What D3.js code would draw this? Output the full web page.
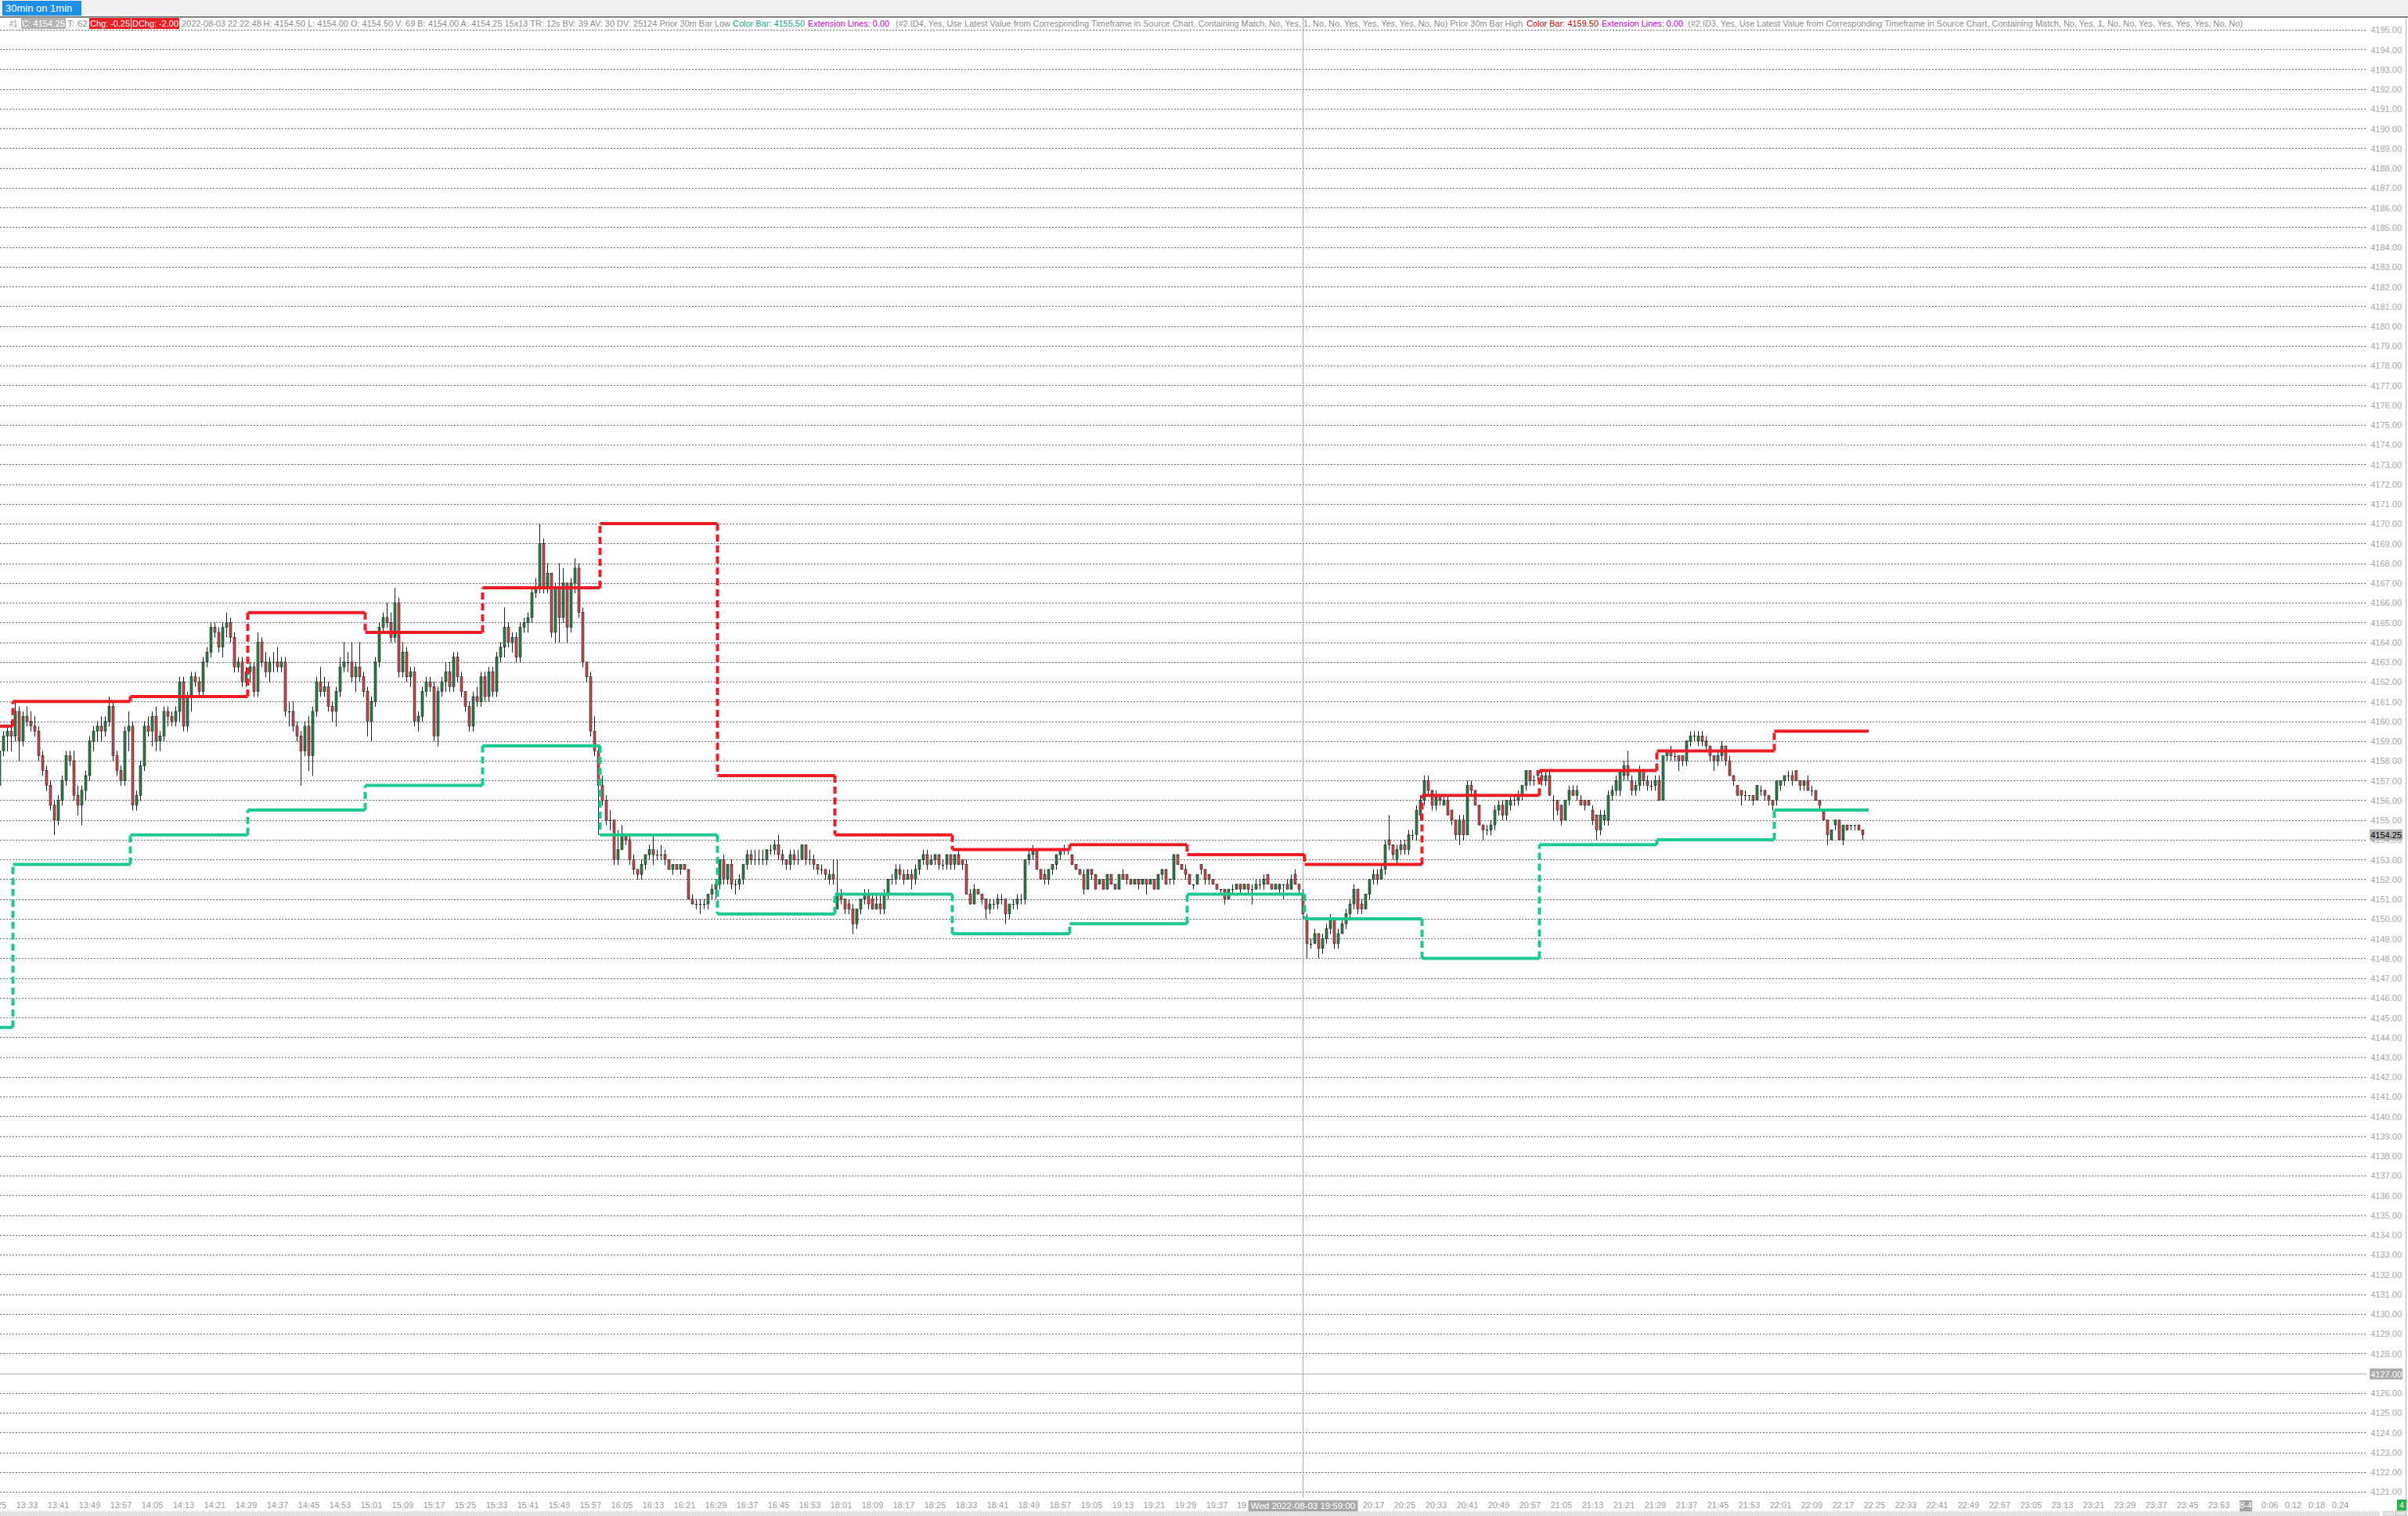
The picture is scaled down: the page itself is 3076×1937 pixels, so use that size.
<!DOCTYPE html>
<html><head><meta charset="utf-8">
<script src="https://cdn.jsdelivr.net/npm/d3@7"></script>
<style>
html,body{margin:0;padding:0;background:#fff;overflow:hidden;}
svg{display:block;}
text{font-family:"Liberation Sans",Arial,sans-serif;}
</style></head><body>
<svg id="c" width="3076" height="1937"></svg>
<script>
// ---------------- DATA ----------------
// 1-minute bars, session 1: 13:26-16:59 (index 0-213), session 2: 18:00-22:22 (index 214-476)
const opens=[
4156.75,4158.5,4159.25,4159.5,4159.25,4160.5,4159,4160.25,4160,4159.75,
4159.5,4158.25,4157.5,4156.75,4155.75,4155,4156,4157,4158.25,4158,
4156.25,4155.75,4156.5,4157.25,4159,4159.5,4159.75,4159.5,4160,4160.75,
4158.25,4157.5,4157,4159.5,4159.75,4155.75,4156.25,4157.75,4159.75,4159.5,
4160.25,4159,4159.25,4160.5,4160.25,4160,4160.5,4162,4159.75,4161.25,
4162.25,4162,4161.5,4163,4163.5,4164.75,4164.5,4163.75,4164.75,4165,
4164.25,4162.75,4163,4162,4162.5,4162.75,4161.5,4164,4163,4162.5,
4163,4163,4162.75,4163,4160.5,4160.5,4159.75,4159.25,4158.5,4159.75,
4158.25,4160.5,4162,4161.5,4161.75,4160.75,4160.5,4161.5,4162.75,4163,
4163,4162.25,4162.75,4162.25,4161.5,4160,4161,4163,4164.75,4165.25,
4165,4164.25,4166,4162.5,4163.5,4162.25,4162.5,4160,4160.25,4161.5,
4162,4161.75,4159.25,4161.5,4162,4162.5,4161.75,4163.25,4162.25,4161.5,
4160.75,4159.75,4161.25,4161,4162.25,4161.25,4162.5,4161.5,4163.25,4163.75,
4164.75,4164,4164.25,4163.25,4164.75,4165,4165.25,4166.5,4166.75,4169,
4166.75,4167.5,4164.5,4166.75,4165.25,4167,4164.75,4167,4167.75,4165.5,
4163,4162.25,4159.5,4158.5,4156.75,4156,4155,4155,4153,4153.5,
4154.25,4154,4153,4152.5,4152.25,4152.75,4153.25,4153.5,4153.25,4153.25,
4153.25,4153,4152.5,4152.75,4152.5,4152.75,4152.5,4151,4150.75,4150.75,
4150.75,4150.75,4151.25,4151.5,4151.75,4153,4152,4152.75,4151.75,4151.75,
4152,4152.75,4153.25,4153,4153,4153,4153,4153.5,4153.5,4153.75,
4153.25,4153,4152.75,4153.25,4153,4153,4153.75,4153,4153,4152.75,
4152.5,4152.5,4152,4152.25,4150.5,4151.25,4151,4150.75,4150.5,4149.75,
4150.5,4151,4151.25,4151,4150.5,4150.75,4150.5,4151.25,4152,4152,
4152.5,4152.25,4152,4152.25,4152,4152.5,4153,4153.25,4152.75,4153,
4153.25,4152.75,4152.75,4153.25,4152.75,4153.25,4153,4152.75,4151.25,4150.75,
4151.5,4151.25,4151,4150.5,4150.75,4150.75,4151,4151,4150.25,4150.75,
4150.75,4151,4151,4153,4153.25,4153.5,4152.5,4152.25,4152,4152.5,
4152.75,4153.25,4153.5,4153.5,4153.25,4152.75,4152.5,4152.25,4151.5,4152.5,
4152.25,4151.75,4152,4151.5,4152.25,4151.75,4151.5,4152.25,4152.25,4152,
4151.75,4152,4151.75,4152,4151.75,4152,4151.5,4152.25,4152.5,4152,
4152,4153.25,4152.75,4152.5,4152.25,4151.75,4151.75,4152.75,4152.5,4152.25,
4152,4151.75,4151.5,4151.5,4151,4151.5,4151.5,4151.75,4151.5,4151.75,
4151.5,4151.5,4151.75,4151.75,4152.25,4151.75,4151.5,4151.5,4151.75,4151.75,
4151.5,4152.25,4151.75,4151.25,4150,4148.75,4148.75,4149.25,4148.5,4149,
4149.5,4150,4148.75,4149.25,4149.75,4150.25,4150.75,4151.5,4150.75,4150.5,
4151.25,4152,4152.25,4152,4152.5,4154,4153.75,4153,4153.5,4153.75,
4153.5,4154.25,4154.25,4155.25,4156,4157,4156.5,4155.75,4156.25,4155.75,
4156,4155.5,4155,4154.25,4155,4154.25,4156.75,4156.5,4155.75,4154.75,
4154.5,4154.5,4154.75,4155.5,4155.75,4155.25,4155.75,4156,4156,4156.25,
4156.75,4157.5,4157,4157.5,4157.25,4157,4157.25,4156,4156,4155.75,
4155,4156,4156.5,4156.25,4156,4156,4156,4155.5,4155.25,4154.5,
4155,4155,4156.25,4156.5,4156.5,4157.25,4157.75,4157,4156.5,4156.75,
4157.5,4157,4156.75,4156.75,4157,4156,4158.25,4158.5,4158.25,4158.25,
4158.25,4158,4159,4159.25,4159,4159.25,4159,4158.75,4158.25,4158,
4158.25,4158.75,4158,4157.25,4156.75,4156.5,4156.25,4156.25,4156.25,4156,
4156.5,4156.5,4156.25,4156,4156,4156.75,4157,4157.25,4157.25,4157.5,
4157,4156.75,4157,4156.5,4156.5,4156,4155.5,4155,4154,4154.75,
4155,4154,4154.75,4154.75,4154.75,4154.75,4154.5];
const highs=[
4158.75,4159.5,4159.75,4160,4161,4160.75,4160.5,4160.75,4160.5,4160.25,
4159.75,4158.5,4157.75,4157,4156,4156.25,4157.25,4158.5,4158.5,4158.5,
4156.75,4156.75,4157.5,4159.25,4159.75,4160,4160.25,4160.25,4161.25,4161,
4158.5,4157.75,4159.75,4160.5,4160,4156.5,4158,4160,4160.25,4160.5,
4160.75,4159.5,4160.75,4160.75,4160.5,4160.75,4162.25,4162.25,4161.5,4162.5,
4162.5,4162.25,4163.25,4163.75,4165,4165,4164.75,4165,4165.5,4165.25,
4164.5,4163.25,4163.25,4162.75,4163,4163,4164.5,4164.25,4163.5,4163.25,
4163.5,4163.75,4163.25,4163.25,4161,4161,4160,4159.5,4160,4160.25,
4160.75,4162.25,4162.75,4162.25,4162,4161,4161.75,4163.25,4164,4163.5,
4164,4163,4164,4162.5,4161.75,4161.25,4163.25,4165,4165.5,4166,
4165.5,4166.75,4166.25,4164,4163.75,4162.75,4162.75,4160.5,4161.75,4162.25,
4162.25,4162,4161.75,4162.25,4163,4163,4163.5,4163.5,4162.5,4161.5,
4161,4161.5,4161.75,4162.5,4162.5,4162.75,4162.75,4163.5,4164,4165.75,
4165,4164.5,4164.5,4165,4165.25,4165.5,4166.75,4167.25,4170,4169.25,
4168,4167.5,4167,4168,4167.75,4167,4167.25,4168.25,4168,4165.75,
4163,4162.5,4160.25,4158.75,4157.25,4156.25,4155.5,4155,4154.5,4154.75,
4154.25,4154.25,4153.25,4152.5,4153,4153.25,4153.75,4154.25,4153.5,4153.75,
4153.5,4153,4152.75,4152.75,4152.75,4152.75,4152.5,4151.25,4151,4151,
4151,4151.25,4151.75,4152,4153,4153.25,4152.75,4153,4152,4152.25,
4152.75,4153.5,4153.5,4153.5,4153.5,4153.5,4153.5,4153.75,4154,4154.25,
4153.5,4153,4153.5,4153.5,4153.5,4153.75,4153.75,4153.5,4153.25,4152.75,
4152.75,4152.5,4152.5,4153,4153,4151.5,4151,4151,4150.75,4150.5,
4151,4151.5,4151.5,4151.25,4151.25,4151.25,4151.5,4152,4152.25,4152.75,
4152.75,4152.5,4152.5,4152.5,4152.75,4153,4153.5,4153.5,4153.25,4153.25,
4153.25,4153,4153.25,4153.25,4153.25,4153.5,4153,4153,4151.5,4151.75,
4151.5,4151.25,4151,4151,4151,4151.25,4151.25,4151,4150.75,4151,
4151.25,4151.25,4153,4153.5,4153.75,4153.5,4152.5,4152.5,4152.5,4152.75,
4153.25,4153.5,4153.75,4153.5,4153.25,4152.75,4152.5,4152.5,4152.5,4152.5,
4152.25,4152,4152,4152.25,4152.25,4151.75,4152.25,4152.5,4152.25,4152,
4152,4152,4152,4152,4152,4152,4152.25,4152.5,4152.5,4152,
4153.25,4153.25,4152.75,4152.75,4152.25,4151.75,4152.25,4152.75,4152.5,4152.25,
4152,4151.75,4151.5,4151.5,4151.5,4151.75,4151.75,4151.75,4151.75,4151.75,
4151.75,4152,4152,4152.25,4152.25,4151.75,4151.75,4151.75,4151.75,4152,
4152.25,4152.5,4151.75,4151.5,4150.25,4149,4149.5,4149.25,4149.25,4149.75,
4150.25,4150,4149.5,4150,4150.5,4151,4151.75,4151.5,4151,4151.25,
4152,4152.5,4152.5,4152.75,4154,4155.25,4153.75,4153.75,4154,4154,
4154.5,4154.5,4155.75,4156.25,4157.25,4157.25,4156.5,4156.5,4156.25,4156.25,
4156.25,4155.5,4155,4155.25,4155.25,4157,4157,4156.5,4155.75,4154.75,
4154.75,4155,4155.75,4156,4156,4156,4156.25,4156.25,4156.5,4156.75,
4157.5,4157.5,4157.25,4157.5,4157.5,4157.5,4157.5,4156.25,4156,4155.75,
4156,4156.75,4156.75,4156.75,4156.25,4156,4156,4155.75,4155.25,4155.5,
4155.5,4156.5,4156.75,4157.25,4157.5,4158,4158.5,4157.25,4157,4157.75,
4157.5,4157.25,4157,4157.25,4157.25,4158.25,4158.5,4158.75,4158.5,4158.25,
4158.25,4159,4159.5,4159.5,4159.5,4159.5,4159.25,4158.75,4158.25,4158.5,
4159,4158.75,4158.25,4157.25,4156.75,4156.5,4156.5,4156.25,4156.25,4156.75,
4156.75,4156.5,4156.25,4156,4157,4157,4157.25,4157.5,4157.5,4157.5,
4157,4157,4157.25,4156.75,4156.5,4156,4155.5,4155,4154.5,4155,
4155,4154.75,4154.75,4154.75,4154.75,4154.75,4154.5];
const lows=[
4156.5,4158.25,4158.5,4158.5,4159,4158,4158.75,4159.75,4159.5,4159.25,
4158,4157.25,4156.5,4155.5,4154.25,4154.75,4155.75,4156.75,4157.75,4156,
4155.25,4154.75,4156,4157,4158.5,4159,4159,4159.25,4159.75,4158,
4157.25,4156.75,4156.75,4158.5,4155.5,4155.5,4156,4157.5,4159.25,4158.75,
4158.5,4158.5,4159,4159.75,4159.75,4159.75,4160,4159.5,4159.5,4160.5,
4161.75,4161.25,4161.25,4162.75,4163.25,4164.25,4163.5,4163.25,4164.25,4164,
4162.5,4162.5,4161.75,4161.75,4162,4161.25,4161.25,4162.75,4162.25,4162,
4162.5,4162.5,4162.5,4160.25,4159.75,4159.5,4159,4156.75,4158.25,4157.5,
4157.25,4160.25,4161.25,4161.25,4160.5,4160,4159.75,4161.25,4162.5,4162.5,
4162,4161.5,4162,4161.25,4159.25,4159,4160.75,4162.75,4164.5,4164.75,
4164,4164,4162.25,4162.25,4162,4161.75,4159.75,4159.5,4160,4161.25,
4161.5,4159,4158.75,4161.25,4161.5,4161.5,4161.5,4162,4161.25,4160.5,
4159.5,4159.5,4160.75,4160.75,4161,4161,4161.25,4161.25,4163,4163.25,
4163.75,4163.5,4163,4163,4164.5,4164.5,4165,4166.25,4166.5,4166.5,
4166.5,4164.25,4164,4164,4165,4164,4164.5,4166.5,4165.25,4162.75,
4162,4159.25,4158.25,4154.25,4155.75,4154.75,4154.5,4152.75,4152.75,4153.5,
4153.75,4152.75,4152.25,4152,4152,4152.5,4153,4152.75,4153,4153,
4152.75,4152.5,4152.25,4152.5,4152.25,4152.5,4151,4150.75,4150.5,4150.25,
4150.5,4150.5,4151,4151,4151.5,4151.75,4151.75,4151.5,4151.25,4151.5,
4151.75,4152.5,4152.75,4152.75,4152.75,4152.75,4152.75,4153.25,4153.25,4153,
4152.75,4152.5,4152.5,4152.75,4152.75,4153,4152.75,4152.75,4152.5,4152.25,
4152.25,4152,4151.75,4151.75,4150.5,4150.75,4150.25,4150.25,4149.25,4149.5,
4150.25,4150.75,4150.5,4150.5,4150.5,4150.25,4150.25,4151,4151.75,4151.75,
4152,4151.75,4152,4151.5,4151.75,4152.25,4152.75,4152.5,4152.75,4152.75,
4152.5,4152.5,4152.5,4152.5,4152.5,4152.75,4152.5,4151.25,4150.75,4150.75,
4151.25,4150.75,4150,4150.25,4150.5,4150.5,4150.75,4149.75,4150,4150.5,
4150.5,4150.75,4150.75,4152.75,4153,4152.5,4152,4151.75,4151.75,4152.25,
4152.5,4153,4153.25,4153.25,4152.75,4152.5,4152.25,4151.25,4151.5,4152,
4151.5,4151.75,4151.5,4151.5,4151.75,4151.5,4151.5,4152,4151.75,4151.75,
4151.75,4151.5,4151.75,4151.25,4151.75,4151.5,4151.5,4152,4151.75,4151.75,
4151.75,4152.75,4152.5,4152,4151.75,4151.5,4151.75,4152.25,4151.75,4151.75,
4151.75,4151.5,4151.25,4150.75,4151,4151.25,4151.5,4151.25,4151.5,4151.25,
4150.75,4151.5,4151.5,4151.5,4151.75,4151.5,4151.5,4151.25,4151,4151.5,
4151.5,4151.75,4151.25,4150,4148,4148.5,4148.75,4148,4148.25,4148.75,
4149.25,4148.5,4148.5,4149.25,4149.5,4150,4150.5,4150.25,4150.25,4150.5,
4151,4151.75,4151.75,4152,4152.25,4153.5,4153,4152.75,4153.25,4153.25,
4153.25,4154,4154,4155,4155.75,4156.25,4155.5,4155.5,4155.75,4155.75,
4155.25,4154.75,4154,4153.75,4154,4154.25,4156.25,4155.75,4154.75,4154,
4154.25,4154.25,4154.5,4155.25,4155,4155,4155.5,4155.75,4155.75,4156,
4156.5,4156.75,4156.75,4157,4156.75,4156.75,4156.25,4155,4155.25,4154.75,
4155,4155.75,4156.25,4156,4155.75,4155.5,4155.75,4154.75,4154,4154.25,
4154.75,4154.75,4156,4156.25,4156.25,4157,4157,4156.25,4156.25,4156.5,
4156.75,4156.5,4156.5,4156.5,4156,4156,4158,4158,4158,4157.5,
4157.75,4157.75,4158.75,4159,4158.75,4158.75,4158.5,4158,4157.5,4157.75,
4158,4157.75,4157.25,4156.75,4156.25,4155.75,4156,4156,4155.75,4156,
4156.25,4156,4155.75,4155.5,4155.75,4156.5,4156.75,4157,4156.75,4157,
4156.5,4156.5,4156.5,4156.25,4156,4155.5,4155,4153.75,4154,4154.5,
4154,4153.75,4154.5,4154.5,4154.5,4154.5,4154];
const closes=[
4158.5,4159.25,4159.5,4159.25,4160.5,4159,4160.25,4160,4159.75,4159.5,
4158.25,4157.5,4156.75,4155.75,4155,4156,4157,4158.25,4158,4156.25,
4155.75,4156.5,4157.25,4159,4159.5,4159.75,4159.5,4160,4160.75,4158.25,
4157.5,4157,4159.5,4159.75,4155.75,4156.25,4157.75,4159.75,4159.5,4160.25,
4159,4159.25,4160.5,4160.25,4160,4160.5,4162,4159.75,4161.25,4162.25,
4162,4161.5,4163,4163.5,4164.75,4164.5,4163.75,4164.75,4165,4164.25,
4162.75,4163,4162,4162.5,4162.75,4161.5,4164,4163,4162.5,4163,
4163,4162.75,4163,4160.5,4160.5,4159.75,4159.25,4158.5,4159.75,4158.25,
4160.5,4162,4161.5,4161.75,4160.75,4160.5,4161.5,4162.75,4163,4163,
4162.25,4162.75,4162.25,4161.5,4160,4161,4163,4164.75,4165.25,4165,
4164.25,4166,4162.5,4163.5,4162.25,4162.5,4160,4160.25,4161.5,4162,
4161.75,4159.25,4161.5,4162,4162.5,4161.75,4163.25,4162.25,4161.5,4160.75,
4159.75,4161.25,4161,4162.25,4161.25,4162.5,4161.5,4163.25,4163.75,4164.75,
4164,4164.25,4163.25,4164.75,4165,4165.25,4166.5,4166.75,4169,4166.75,
4167.5,4164.5,4166.75,4165.25,4167,4164.75,4167,4167.75,4165.5,4163,
4162.25,4159.5,4158.5,4156.75,4156,4155,4155,4153,4153.5,4154.25,
4154,4153,4152.5,4152.25,4152.75,4153.25,4153.5,4153.25,4153.25,4153.25,
4153,4152.5,4152.75,4152.5,4152.75,4152.5,4151,4150.75,4150.75,4150.75,
4150.75,4151.25,4151.5,4151.75,4153,4152,4152.75,4151.75,4151.75,4152,
4152.75,4153.25,4153,4153,4153,4153,4153.5,4153.5,4153.75,4153.25,
4153,4152.75,4153.25,4153,4153,4153.75,4153,4153,4152.75,4152.5,
4152.5,4152.25,4152.25,4152,4151.25,4151,4150.5,4150.5,4149.75,4150.5,
4151,4151.25,4150.75,4150.5,4150.75,4150.5,4151.25,4152,4152,4152.5,
4152.25,4152,4152.25,4152,4152.5,4153,4153.25,4152.75,4153,4153.25,
4152.75,4152.75,4153.25,4152.75,4153.25,4152.75,4152.75,4151.25,4150.75,4151.5,
4151.25,4151,4150.5,4150.75,4150.75,4151,4151,4150.25,4150.75,4150.75,
4151,4151,4153,4153.25,4153.5,4152.5,4152,4152,4152.5,4152.75,
4153.25,4153.5,4153.5,4153.5,4152.75,4152.5,4152.25,4151.5,4152.5,4152.25,
4151.5,4152,4151.5,4152.25,4151.75,4151.5,4152.25,4152,4152,4151.75,
4152,4151.75,4152,4151.75,4152,4151.5,4152.25,4152.5,4151.75,4152,
4153.25,4152.75,4152.5,4152.25,4151.75,4151.75,4152.25,4152.5,4152,4152,
4151.75,4151.5,4151.5,4151,4151.5,4151.5,4151.75,4151.5,4151.75,4151.5,
4151.5,4151.75,4151.75,4152,4151.75,4151.5,4151.75,4151.75,4151.75,4151.5,
4152,4151.75,4151.5,4150.25,4148.75,4148.75,4149.25,4148.5,4149,4149.5,
4150,4148.75,4149.25,4149.75,4150.25,4150.75,4151.5,4150.5,4150.5,4151.25,
4152,4152.25,4152,4152.5,4153.75,4153.75,4153.25,4153.5,4153.75,4153.5,
4154.25,4154.25,4155.5,4156,4157,4156.5,4155.75,4156.25,4156,4156,
4155.25,4155,4154.25,4155,4154.25,4156.75,4156.5,4155.75,4154.75,4154.5,
4154.5,4154.75,4155.5,4155.75,4155.25,4156,4156,4156,4156.25,4156.75,
4157.5,4157,4157,4157.25,4157,4157.25,4156.25,4156,4155.5,4155,
4156,4156.5,4156.25,4156.5,4155.75,4155.75,4155.75,4155,4154.5,4155.25,
4155.25,4156.25,4156.5,4157,4157.5,4157.75,4157.25,4156.5,4156.75,4157.5,
4157,4156.75,4156.75,4157,4156,4158.25,4158.5,4158.25,4158.25,4158,
4158,4159,4159.25,4159.25,4159.25,4159,4158.75,4158.25,4158,4158.25,
4158.75,4158,4157.25,4157,4156.25,4156.25,4156.25,4156.25,4156,4156.75,
4156.5,4156.25,4156,4155.75,4157,4157,4157.25,4157.25,4157,4157,
4156.75,4157,4156.5,4156.5,4156,4155.75,4155,4154.25,4154.5,4155,
4154,4154.75,4154.5,4154.75,4154.75,4154.5,4154.25];

// Prior 30-minute bar high / low (step lines), per 30-minute period
const periodStarts=["13:00","13:30","14:00","14:30","15:00","15:30","16:00","16:30","18:00","18:30","19:00","19:30","20:00","20:30","21:00","21:30","22:00"];
const priorHigh=[4159.75,4161,4161.25,4165.5,4164.5,4166.75,4170,4157.25,4154.25,4153.5,4153.75,4153.25,4152.75,4156.25,4157.5,4158.5,4159.5];
const priorLow=[4144.5,4152.75,4154.25,4155.5,4156.75,4158.75,4154.25,4150.25,4151.25,4149.25,4149.75,4151.25,4150,4148,4153.75,4154,4155.5];

// axis tick labels (those fully hidden by the cursor time box are left out)
const timeTicks=["13:25","13:33","13:41","13:49","13:57","14:05","14:13","14:21","14:29","14:37","14:45","14:53","15:01","15:09","15:17","15:25","15:33","15:41","15:49","15:57","16:05","16:13","16:21","16:29","16:37","16:45","16:53",
"18:01","18:09","18:17","18:25","18:33","18:41","18:49","18:57","19:05","19:13","19:21","19:29","19:37","20:17","20:25","20:33","20:41","20:49","20:57","21:05","21:13","21:21","21:29","21:37","21:45","21:53","22:01","22:09","22:17",
"22:25","22:33","22:41","22:49","22:57","23:05","23:13","23:21","23:29","23:37","23:45","23:53","0:06","0:12","0:18","0:24"];
const partialTick={label:"19",time:"19:45"};   // only "19" shows left of the cursor box
const dateTick={label:"8-4",time:"0:00"};
const priceMin=4121, priceMax=4195;
const cursor={time:"19:59",price:4127,label:"Wed 2022-08-03 19:59:00"};
const lastPrice=4154.25;

const headerItems=[
 {t:"#1",x:12,w:10,c:"#8c8c8c"},
 {t:"C: 4154.25",x:28,w:55,c:"#ffffff",bg:"#b4b4b4"},
 {t:"T: 62",x:86,w:26,c:"#8c8c8c"},
 {t:"Chg: -0.25",x:115,w:51,c:"#ffffff",bg:"#ee1c24"},
 {t:"DChg: -2.00",x:169,w:59,c:"#ffffff",bg:"#ee1c24"},
 {t:"2022-08-03 22:22:48 H: 4154.50 L: 4154.00 O: 4154.50 V: 69 B: 4154.00 A: 4154.25 15x13 TR: 12s BV: 39 AV: 30 DV: 25124 Prior 30m Bar Low",x:232,w:701,c:"#8c8c8c"},
 {t:"Color Bar: 4155.50",x:936,w:92,c:"#10a889"},
 {t:"Extension Lines: 0.00",x:1032,w:104,c:"#c800c8"},
 {t:"(#2.ID4, Yes, Use Latest Value from Corresponding Timeframe in Source Chart, Containing Match, No, Yes, 1, No, No, Yes, Yes, Yes, Yes, No, No) Prior 30m Bar High",x:1144,w:801,c:"#8c8c8c"},
 {t:"Color Bar: 4159.50",x:1950,w:92,c:"#c80000"},
 {t:"Extension Lines: 0.00",x:2046,w:104,c:"#c800c8"},
 {t:"(#2.ID3, Yes, Use Latest Value from Corresponding Timeframe in Source Chart, Containing Match, No, Yes, 1, No, No, Yes, Yes, Yes, Yes, No, No)",x:2156,w:709,c:"#8c8c8c"}
];

// ---------------- DRAW ----------------
const W=3076,H=1937;
const plotRight=3024, plotTop=23, plotBottom=1914;
const svg=d3.select("#c");

function idxOf(t){
  const [h,m]=t.split(":").map(Number);
  let mm=h*60+m;
  if(mm<13*60) mm+=1440;
  if(mm<=17*60) return mm-(13*60+26);
  return 214+mm-18*60;
}
const x=d3.scaleLinear().domain([0,598]).range([-1,2989]);
const y=d3.scaleLinear().domain([priceMin,priceMax]).range([1906,38]);
const barW=x(1)-x(0);

// top band
svg.append("rect").attr("x",0).attr("y",0).attr("width",W).attr("height",21).attr("fill","#efefef");
svg.append("rect").attr("x",0).attr("y",21).attr("width",W).attr("height",1.5).attr("fill","#5a5a5a");
svg.append("rect").attr("x",3).attr("y",1).attr("width",101).attr("height",19).attr("fill","#1e8fe8");
svg.append("text").attr("x",7).attr("y",15).attr("font-size",13).attr("fill","#fff").text("30min on 1min");

// clip
const defs=svg.append("defs");
defs.append("clipPath").attr("id","plot").append("rect")
  .attr("x",0).attr("y",plotTop).attr("width",plotRight).attr("height",plotBottom-plotTop);

// grid lines + price labels
const priceTicks=d3.range(priceMin,priceMax+1);
const gGrid=svg.append("g");
gGrid.selectAll("line").data(priceTicks).join("line")
  .attr("x1",0).attr("x2",3023)
  .attr("y1",d=>Math.round(y(d))+0.5).attr("y2",d=>Math.round(y(d))+0.5)
  .attr("stroke","#707070").attr("stroke-width",1).attr("stroke-dasharray","2,2");
const yAxis=d3.axisRight(y).tickValues(priceTicks.filter(p=>p!==cursor.price)).tickFormat(d3.format(".2f")).tickSize(0).tickPadding(0);
const gy=svg.append("g").attr("transform","translate(3068,0)").call(yAxis);
gy.select(".domain").remove();
gy.selectAll("text").attr("text-anchor","end").attr("x",0).attr("dy","0.35em")
  .attr("font-size",11).attr("fill","#a5a5a5").attr("font-family","Liberation Sans, Arial, sans-serif");

// crosshair
const gPlot=svg.append("g").attr("clip-path","url(#plot)");
const cx=Math.round(x(idxOf(cursor.time)))+0.5;
const cy=Math.round(y(cursor.price))+0.5;
gPlot.append("line").attr("x1",cx).attr("x2",cx).attr("y1",plotTop).attr("y2",plotBottom).attr("stroke","#a8a8a8");
svg.append("line").attr("x1",0).attr("x2",3023).attr("y1",cy).attr("y2",cy).attr("stroke","#b0b0b0");

// step lines (prior 30m high / low)
const pStartIdx=periodStarts.map(idxOf);
const lastEndX=x(opens.length-1)+8;
function stepLines(vals,color){
  const g=gPlot.append("g");
  vals.forEach((v,k)=>{
    const x0=k===0?0:x(pStartIdx[k])-barW/2;
    const x1=k<vals.length-1?x(pStartIdx[k+1])-barW/2:lastEndX;
    g.append("line").attr("x1",x0).attr("x2",x1).attr("y1",y(v)).attr("y2",y(v))
      .attr("stroke",color).attr("stroke-width",4);
    if(k>0){
      g.append("line").attr("x1",x0).attr("x2",x0).attr("y1",y(vals[k-1])).attr("y2",y(v))
        .attr("stroke",color).attr("stroke-width",4).attr("stroke-dasharray","9,5");
    }
  });
}

// candles
const bars=opens.map((o,i)=>({i,o,h:highs[i],l:lows[i],c:closes[i]}));
const gBars=gPlot.append("g");
bars.forEach(d=>{
  const px=Math.round(x(d.i));
  gBars.append("line").attr("x1",px+0.5).attr("x2",px+0.5).attr("y1",y(d.h)).attr("y2",y(d.l)+0.5)
    .attr("stroke","#1e1e1e").attr("stroke-width",1);
  if(d.c===d.o){
    gBars.append("line").attr("x1",px-1).attr("x2",px+2).attr("y1",Math.round(y(d.c))+0.5).attr("y2",Math.round(y(d.c))+0.5)
      .attr("stroke","#1e1e1e");
  } else {
    const top=y(Math.max(d.o,d.c)), bot=y(Math.min(d.o,d.c));
    gBars.append("rect").attr("x",px-1).attr("width",3).attr("y",top).attr("height",Math.max(1,bot-top))
      .attr("fill",d.c>d.o?"#2c7c47":"#c24b4b").attr("stroke","#1e1e1e").attr("stroke-width",0.6);
  }
});
stepLines(priorHigh,"#ee1c24");
stepLines(priorLow,"#1cc98b");

// header
const gHead=svg.append("g");
headerItems.forEach(it=>{
  if(it.bg) gHead.append("rect").attr("x",it.x-1).attr("y",23).attr("width",it.w+2).attr("height",14).attr("fill",it.bg);
  gHead.append("text").attr("x",it.x).attr("y",34).attr("font-size",11).attr("fill",it.c)
    .attr("textLength",it.w).attr("lengthAdjust","spacingAndGlyphs").text(it.t);
});

// x axis labels
const xAxis=d3.axisBottom(x).tickValues(timeTicks.map(idxOf)).tickFormat((d,k)=>timeTicks[k]).tickSize(0).tickPadding(0);
const gx=svg.append("g").attr("transform","translate(0,1927)").call(xAxis);
gx.select(".domain").remove();
gx.selectAll("text").attr("dy",0).attr("font-size",11).attr("fill","#9a9a9a").attr("font-family","Liberation Sans, Arial, sans-serif");
// partially visible tick just left of the cursor label
const ptX=x(idxOf(partialTick.time));
svg.append("text").attr("x",ptX-14).attr("y",1927).attr("font-size",11).attr("fill","#9a9a9a").text(partialTick.label);

// date tick (highlighted)
const dX=x(idxOf(dateTick.time));
svg.append("rect").attr("x",dX-8).attr("y",1917).attr("width",16).attr("height",14).attr("fill","#a4a4a4");
svg.append("text").attr("x",dX).attr("y",1927).attr("text-anchor","middle").attr("font-size",11).attr("fill","#fff").text(dateTick.label);

// cursor time label
svg.append("rect").attr("x",cx-70).attr("y",1917).attr("width",140).attr("height",14).attr("fill","#a8a8a8");
svg.append("text").attr("x",cx).attr("y",1927.5).attr("text-anchor","middle").attr("font-size",11.5).attr("fill","#fff").text(cursor.label);

// cursor price label
svg.append("rect").attr("x",3027).attr("y",cy-7).attr("width",42).attr("height",14).attr("fill","#a9a9a9");
svg.append("text").attr("x",3068).attr("y",cy+4).attr("text-anchor","end").attr("font-size",11).attr("fill","#fff").text(d3.format(".2f")(cursor.price));

// last price label
const ly=y(lastPrice);
svg.append("rect").attr("x",3027).attr("y",ly-7).attr("width",42).attr("height",14).attr("fill","#b4b4b4");
svg.append("text").attr("x",3068).attr("y",ly+4).attr("text-anchor","end").attr("font-size",11).attr("fill","#000").text(d3.format(".2f")(lastPrice));

// right border
svg.append("rect").attr("x",3073).attr("y",22).attr("width",1).attr("height",1908).attr("fill","#b0b0b0");

// bottom scroll bar (hatched)
const pat=defs.append("pattern").attr("id","hatch").attr("width",2).attr("height",2).attr("patternUnits","userSpaceOnUse");
pat.append("rect").attr("width",2).attr("height",2).attr("fill","#f2f2f2");
pat.append("rect").attr("width",1).attr("height",1).attr("fill","#cfcfcf");
pat.append("rect").attr("x",1).attr("y",1).attr("width",1).attr("height",1).attr("fill","#cfcfcf");
svg.append("rect").attr("x",0).attr("y",1931).attr("width",3040).attr("height",6).attr("fill","url(#hatch)");
svg.append("rect").attr("x",3044).attr("y",1931).attr("width",14).attr("height",6).attr("fill","#e4e4e4").attr("stroke","#b0b0b0").attr("stroke-width",0.5);
svg.append("rect").attr("x",3060).attr("y",1931).attr("width",14).attr("height",6).attr("fill","#e4e4e4").attr("stroke","#707070").attr("stroke-width",0.5);

// green box bottom right
svg.append("rect").attr("x",3062).attr("y",1916).attr("width",12).attr("height",14).attr("fill","#22b34a");
svg.append("text").attr("x",3068).attr("y",1927).attr("text-anchor","middle").attr("font-size",11).attr("fill","#fff").text("4");
</script></body></html>
